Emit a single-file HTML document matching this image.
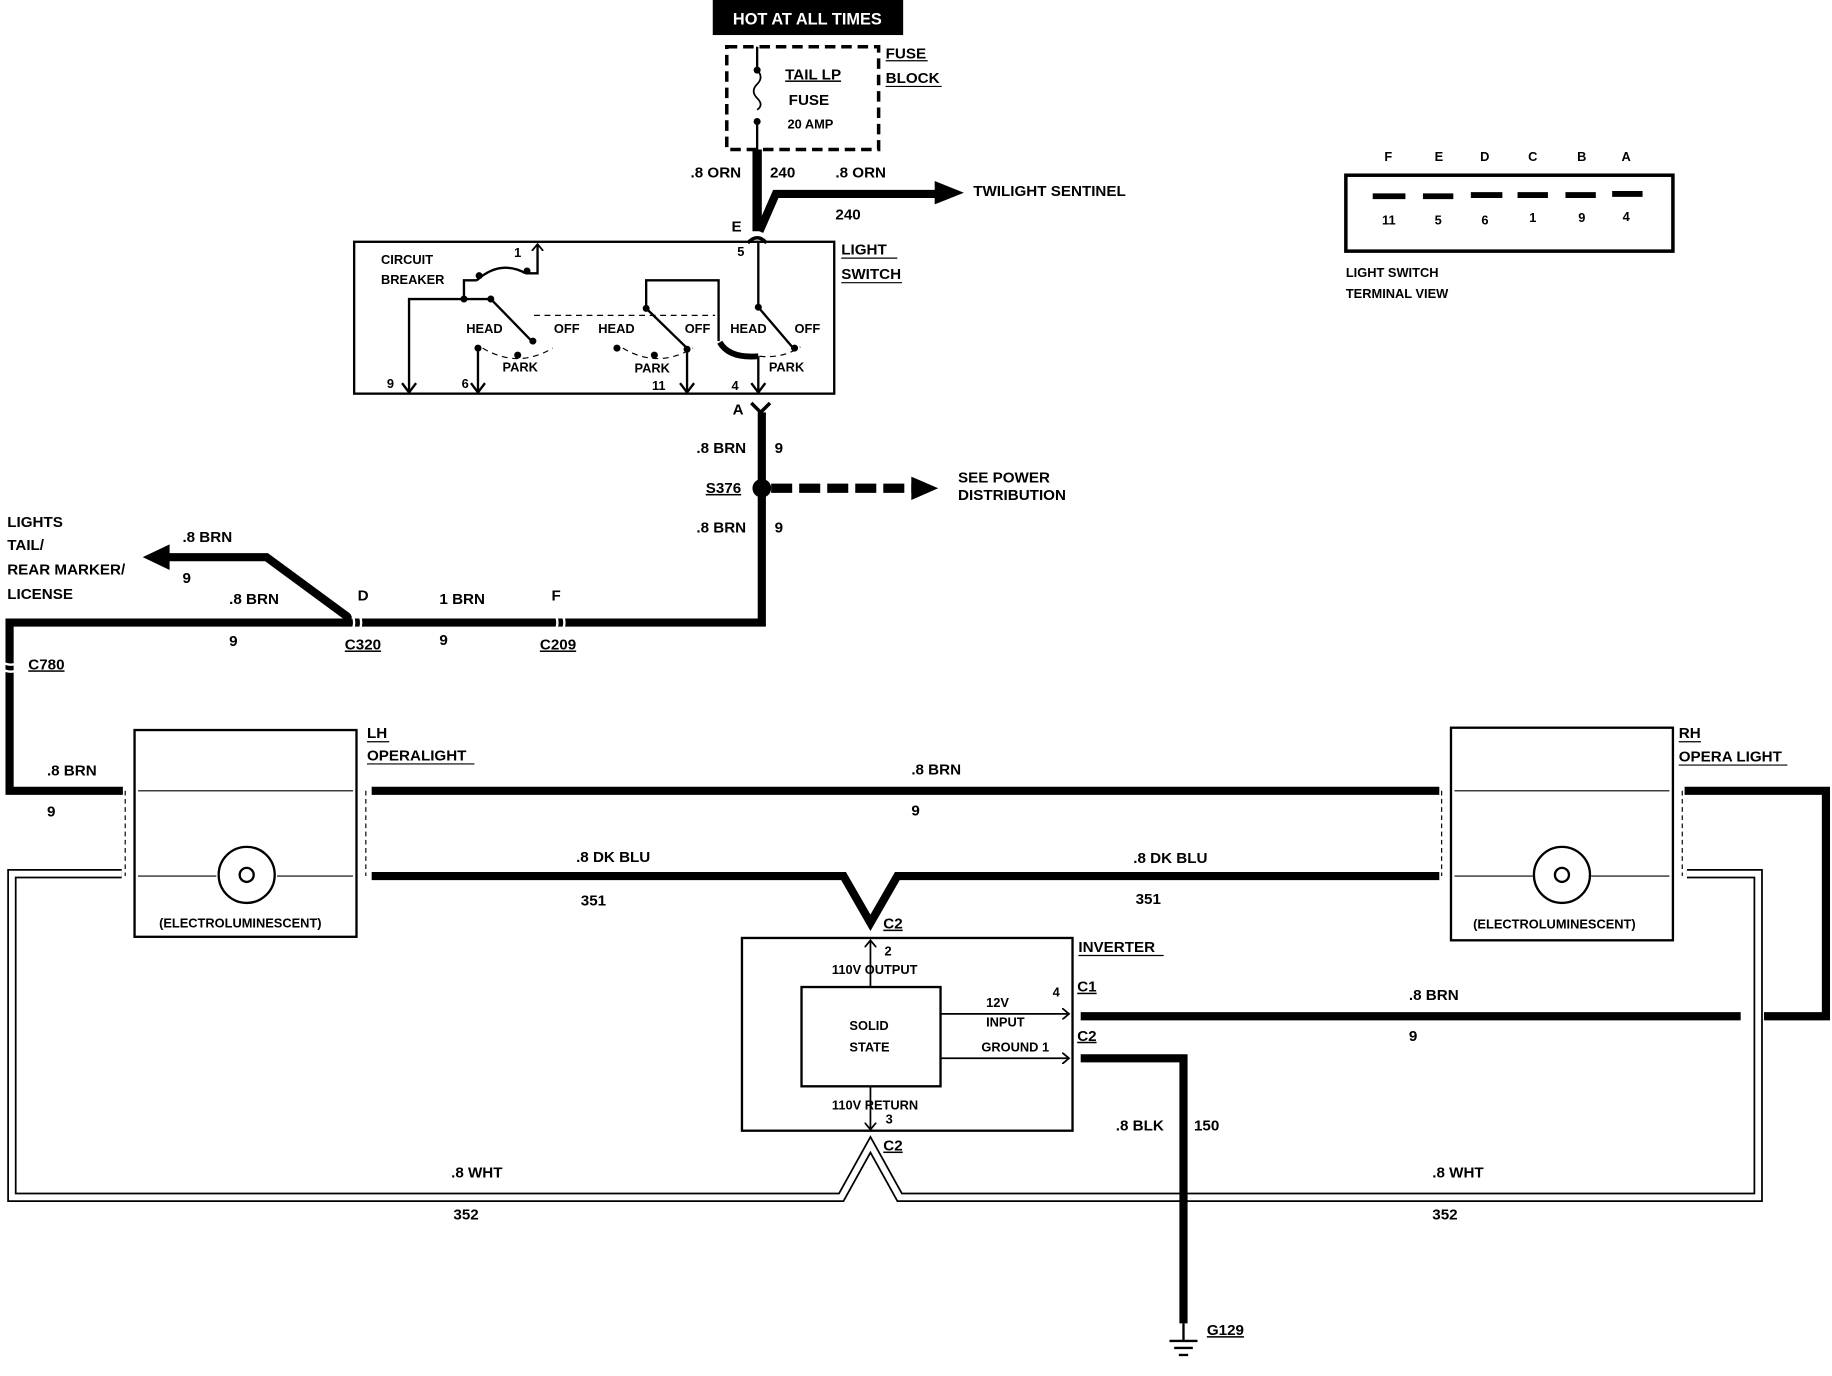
<!DOCTYPE html>
<html><head><style>
html,body{margin:0;padding:0;background:#fff;}
svg{display:block;}
text{font-family:"Liberation Sans",sans-serif;font-weight:bold;font-size:13px;fill:#000;}
.s{font-size:11px;}
</style></head><body>
<svg width="1832" height="1376" viewBox="0 0 1568 1178" xmlns="http://www.w3.org/2000/svg">
<rect width="1568" height="1178" fill="#fff"/>
<defs>
<marker id="ah" markerWidth="10" markerHeight="10" refX="5" refY="5" orient="auto" markerUnits="userSpaceOnUse"><path d="M0,0 L6,5 L0,10" fill="none" stroke="#000" stroke-width="1.5"/></marker>
</defs>
<rect x="610" y="0" width="163" height="30" fill="#000"/>
<text x="691" y="21" text-anchor="middle" style="fill:#fff;font-size:14px">HOT AT ALL TIMES</text>
<rect x="622" y="40" width="130" height="88" fill="none" stroke="#000" stroke-width="3" stroke-dasharray="9,5"/>
<line x1="648" y1="40" x2="648" y2="60" stroke="#000" stroke-width="2"/>
<path d="M648,60 q6,6 0,12 q-6,6 0,12 q6,6 0,10" fill="none" stroke="#000" stroke-width="1.5"/>
<circle cx="648" cy="60" r="3"/><circle cx="648" cy="104" r="3"/>
<line x1="648" y1="104" x2="648" y2="128" stroke="#000" stroke-width="2"/>
<text x="672" y="68" style="text-decoration:underline">TAIL LP</text>
<text x="675" y="90">FUSE</text>
<text x="674" y="110" class="s">20 AMP</text>
<text x="758" y="50">FUSE</text><line x1="758" y1="52" x2="794" y2="52" stroke="#000"/>
<text x="758" y="71">BLOCK</text><line x1="758" y1="74" x2="806" y2="74" stroke="#000"/>
<path d="M648,128 V198" stroke="#000" stroke-width="8" fill="none"/>
<path d="M650,198 L664,166 H805" stroke="#000" stroke-width="7" fill="none"/>
<polygon points="800,155 825,165 800,175"/>
<text x="591" y="152">.8 ORN</text><text x="659" y="152">240</text>
<text x="715" y="152">.8 ORN</text><text x="715" y="188">240</text>
<text x="833" y="168">TWILIGHT SENTINEL</text>
<text x="626" y="198">E</text>
<path d="M640,208 q8,-9 16,0" fill="none" stroke="#000" stroke-width="3"/>
<rect x="303" y="207" width="411" height="130" fill="none" stroke="#000" stroke-width="2"/>
<text x="720" y="218">LIGHT</text><line x1="720" y1="221" x2="768" y2="221" stroke="#000"/>
<text x="720" y="239">SWITCH</text><line x1="720" y1="242" x2="772" y2="242" stroke="#000"/>
<text x="326" y="226" class="s">CIRCUIT</text><text x="326" y="243" class="s">BREAKER</text>
<g stroke="#000" stroke-width="2" fill="none">
<path d="M350,336 V256 H397 V240 H408"/>
<path d="M408,240 q20,-18 42,-6"/>
<path d="M450,234 H460 V210" marker-end="url(#ah)"/>
<path d="M397,256 H420"/>
<path d="M420,256 L455,292"/>
<path d="M553,264 V240 H615 V292"/>
<path d="M553,264 L590,300"/>
<path d="M649,208 V263 L678,297"/>
<path d="M649,305 V336"/>
<path d="M409,336 V300"/><path d="M588,336 V300"/>
</g>
<path d="M616,293 q8,14 33,12" fill="none" stroke="#000" stroke-width="5"/>
<g stroke="#000" stroke-width="1" stroke-dasharray="5,4" fill="none">
<path d="M457,270 H612"/>
<path d="M413,298 q30,18 60,0"/><path d="M533,298 q30,18 60,0"/><path d="M650,305 q20,2 35,-8"/>
</g>
<g><circle cx="397" cy="256" r="3"/><circle cx="410" cy="236" r="3"/><circle cx="451" cy="232" r="3"/><circle cx="420" cy="256" r="3"/><circle cx="456" cy="292" r="3"/><circle cx="409" cy="298" r="3"/><circle cx="443" cy="304" r="3"/><circle cx="553" cy="264" r="3"/><circle cx="528" cy="298" r="3"/><circle cx="560" cy="304" r="3"/><circle cx="588" cy="299" r="3"/><circle cx="649" cy="263" r="3"/><circle cx="680" cy="298" r="3"/></g>
<g class="s"><text x="399" y="285" class="s">HEAD</text><text x="474" y="285" class="s">OFF</text><text x="512" y="285" class="s">HEAD</text><text x="586" y="285" class="s">OFF</text><text x="625" y="285" class="s">HEAD</text><text x="680" y="285" class="s">OFF</text><text x="430" y="318" class="s">PARK</text><text x="543" y="319" class="s">PARK</text><text x="658" y="318" class="s">PARK</text>
<text x="331" y="332" class="s">9</text><text x="395" y="332" class="s">6</text><text x="558" y="334" class="s">11</text><text x="626" y="334" class="s">4</text><text x="440" y="220" class="s">1</text><text x="631" y="219" class="s">5</text></g>
<g stroke="#000" stroke-width="2" fill="none"><path d="M344,328 L350,336 L356,328"/><path d="M403,328 L409,336 L415,328"/><path d="M582,328 L588,336 L594,328"/><path d="M643,328 L649,336 L655,328"/></g>
<text x="627" y="355">A</text>
<path d="M643,345 L651,353 L659,345" fill="none" stroke="#000" stroke-width="3"/>
<path d="M652,353 V533 H8 V677 H105" stroke="#000" stroke-width="7" fill="none"/>
<circle cx="652" cy="418" r="8"/>
<path d="M660,418 H785" stroke="#000" stroke-width="8" stroke-dasharray="18,6" fill="none"/>
<polygon points="780,408 803,418 780,428"/>
<text x="596" y="388">.8 BRN</text><text x="663" y="388">9</text>
<text x="604" y="422" style="text-decoration:underline">S376</text>
<text x="596" y="456">.8 BRN</text><text x="663" y="456">9</text>
<text x="820" y="413">SEE POWER</text><text x="820" y="428">DISTRIBUTION</text>
<path d="M300,530 L228,477 H140" stroke="#000" stroke-width="7" fill="none"/>
<polygon points="145,466 122,477 145,488"/>
<text x="6" y="451">LIGHTS</text><text x="6" y="471">TAIL/</text><text x="6" y="492">REAR MARKER/</text><text x="6" y="513">LICENSE</text>
<text x="156" y="464">.8 BRN</text><text x="156" y="499">9</text>
<text x="196" y="517">.8 BRN</text><text x="196" y="553">9</text>
<text x="306" y="514">D</text><text x="295" y="556" style="text-decoration:underline">C320</text>
<text x="376" y="517">1 BRN</text><text x="376" y="552">9</text>
<text x="472" y="514">F</text><text x="462" y="556" style="text-decoration:underline">C209</text>
<path d="M300,524 q6,9 0,18 M306,524 q6,9 0,18 M474,524 q6,9 0,18 M480,524 q6,9 0,18" stroke="#fff" stroke-width="2" fill="none"/>
<text x="24" y="573" style="text-decoration:underline">C780</text>
<path d="M0,566 q9,6 18,0 M0,572 q9,6 18,0" stroke="#fff" stroke-width="2" fill="none"/>
<text x="40" y="664">.8 BRN</text><text x="40" y="699">9</text>
<g stroke="#000" stroke-width="2" fill="none">
<rect x="115" y="625" width="190" height="177"/>
<rect x="1242" y="623" width="190" height="182"/>
</g>
<g stroke="#000" stroke-width="1" fill="none" stroke-dasharray="4,3"><path d="M107,677 V750 M313,677 V750 M1234,677 V750 M1440,677 V750"/></g>
<g stroke="#000" stroke-width="1"><path d="M118,677 H302 M118,750 H185 M237,750 H302 M1245,677 H1429 M1245,750 H1312 M1362,750 H1429"/></g>
<circle cx="211" cy="749" r="24" fill="none" stroke="#000" stroke-width="2"/><circle cx="1337" cy="749" r="24" fill="none" stroke="#000" stroke-width="2"/>
<circle cx="211" cy="749" r="6" fill="none" stroke="#000" stroke-width="2"/><circle cx="1337" cy="749" r="6" fill="none" stroke="#000" stroke-width="2"/>
<text x="136" y="794" class="s">(ELECTROLUMINESCENT)</text><text x="1261" y="795" class="s">(ELECTROLUMINESCENT)</text>
<text x="314" y="632">LH</text><line x1="314" y1="635" x2="333" y2="635" stroke="#000"/>
<text x="314" y="651">OPERALIGHT</text><line x1="314" y1="654" x2="406" y2="654" stroke="#000"/>
<text x="1437" y="632">RH</text><line x1="1437" y1="635" x2="1456" y2="635" stroke="#000"/>
<text x="1437" y="652">OPERA LIGHT</text><line x1="1437" y1="655" x2="1530" y2="655" stroke="#000"/>
<path d="M318,677 H1232 M1442,677 H1563 V870 H1510" stroke="#000" stroke-width="7" fill="none"/>
<text x="780" y="663">.8 BRN</text><text x="780" y="698">9</text>
<path d="M318,750 H722 L745,790 L768,750 H1232" stroke="#000" stroke-width="7" fill="none"/>
<text x="493" y="738">.8 DK BLU</text><text x="497" y="775">351</text>
<text x="970" y="739">.8 DK BLU</text><text x="972" y="774">351</text>
<rect x="635" y="803" width="283" height="165" fill="none" stroke="#000" stroke-width="2"/>
<rect x="686" y="845" width="119" height="85" fill="none" stroke="#000" stroke-width="2"/>
<text x="727" y="882" class="s">SOLID</text><text x="727" y="900" class="s">STATE</text>
<text x="923" y="815">INVERTER</text><line x1="923" y1="818" x2="996" y2="818" stroke="#000"/>
<text x="756" y="795" style="text-decoration:underline">C2</text>
<text x="757" y="818" class="s">2</text>
<text x="712" y="834" class="s">110V OUTPUT</text>
<text x="712" y="950" class="s">110V RETURN</text><text x="758" y="962" class="s">3</text>
<text x="756" y="985" style="text-decoration:underline">C2</text>
<g stroke="#000" stroke-width="1.5" fill="none">
<path d="M745,845 V806" marker-end="url(#ah)"/><path d="M745,930 V966" marker-end="url(#ah)"/>
<path d="M805,868 H914" marker-end="url(#ah)"/><path d="M805,906 H914" marker-end="url(#ah)"/>
</g>
<text x="844" y="862" class="s">12V</text><text x="844" y="879" class="s">INPUT</text><text x="840" y="900" class="s">GROUND 1</text>
<text x="901" y="853" class="s">4</text>
<text x="922" y="849" style="text-decoration:underline">C1</text>
<text x="922" y="891" style="text-decoration:underline">C2</text>
<path d="M925,870 H1490" stroke="#000" stroke-width="7" fill="none"/>
<text x="1206" y="856">.8 BRN</text><text x="1206" y="891">9</text>
<path d="M104,748 H10 V1025 H720 L745,980 L770,1025 H1505 V748 H1444" stroke="#000" stroke-width="8" fill="none"/>
<path d="M104,748 H10 V1025 H720 L745,980 L770,1025 H1505 V748 H1444" stroke="#fff" stroke-width="5" fill="none"/>
<path d="M925,906 H1013 V1133" stroke="#000" stroke-width="7" fill="none"/>
<text x="955" y="968">.8 BLK</text><text x="1022" y="968">150</text>
<g stroke="#000" stroke-width="2"><line x1="1001" y1="1148" x2="1025" y2="1148"/><line x1="1005" y1="1154" x2="1021" y2="1154"/><line x1="1009" y1="1160" x2="1017" y2="1160"/><line x1="1013" y1="1133" x2="1013" y2="1148"/></g>
<text x="1033" y="1143" style="text-decoration:underline">G129</text>
<text x="386" y="1008">.8 WHT</text><text x="388" y="1044">352</text>
<text x="1226" y="1008">.8 WHT</text><text x="1226" y="1044">352</text>
<rect x="1152" y="150" width="280" height="65" fill="none" stroke="#000" stroke-width="3"/>
<g stroke="#000" stroke-width="5"><line x1="1175" y1="168" x2="1203" y2="168"/><line x1="1218" y1="168" x2="1244" y2="168"/><line x1="1259" y1="167" x2="1286" y2="167"/><line x1="1299" y1="167" x2="1325" y2="167"/><line x1="1340" y1="167" x2="1366" y2="167"/><line x1="1380" y1="166" x2="1406" y2="166"/></g>
<g class="s"><text x="1185" y="138" class="s">F</text><text x="1228" y="138" class="s">E</text><text x="1267" y="138" class="s">D</text><text x="1308" y="138" class="s">C</text><text x="1350" y="138" class="s">B</text><text x="1388" y="138" class="s">A</text>
<text x="1183" y="192" class="s">11</text><text x="1228" y="192" class="s">5</text><text x="1268" y="192" class="s">6</text><text x="1309" y="190" class="s">1</text><text x="1351" y="190" class="s">9</text><text x="1389" y="189" class="s">4</text></g>
<text x="1152" y="237" class="s">LIGHT SWITCH</text><text x="1152" y="255" class="s">TERMINAL VIEW</text>
</svg>
</body></html>
